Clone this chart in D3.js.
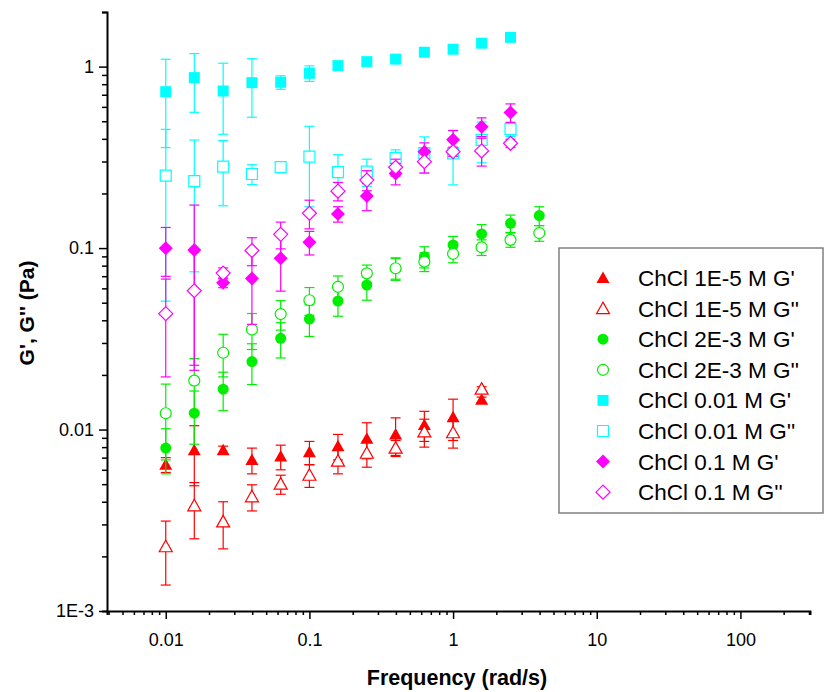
<!DOCTYPE html>
<html><head><meta charset="utf-8">
<script src="https://cdn.jsdelivr.net/npm/d3@7"></script>
<style>body{margin:0;background:#fff}svg{display:block}text{font-family:"Liberation Sans",Arial,sans-serif}</style>
</head><body>
<svg id="c" width="824" height="692"></svg>
<script>
// ---- data ----
const freq = [0.01, 0.0158, 0.0251, 0.0398, 0.0631, 0.1, 0.158, 0.251, 0.398, 0.631, 1, 1.58, 2.51, 3.98];

const s1Gp  = [0.0064, 0.0077, 0.0077, 0.0068, 0.0071, 0.0075, 0.0081, 0.0089, 0.0094, 0.0106, 0.0117, 0.0146];
const s1GpE = [0.0006, 0.0028, 0.0004, 0.0011, 0.0011, 0.0011, 0.0013, 0.002, 0.0022, 0.002, 0.003, 0.0005];
const s1Gpp  = [0.00226, 0.0038, 0.0031, 0.00426, 0.005, 0.0056, 0.0067, 0.0074, 0.0079, 0.0097, 0.0096, 0.0167];
const s1GppE = [0.00087, 0.0013, 0.0009, 0.0007, 0.0006, 0.0008, 0.001, 0.0012, 0.0008, 0.0017, 0.0017, 0.0005];

const s2Gp  = [0.0079, 0.0123, 0.0167, 0.0237, 0.0318, 0.0406, 0.0511, 0.0626, 0.0774, 0.0897, 0.104, 0.1196, 0.137, 0.151];
const s2GpE = [0.0022, 0.004, 0.004, 0.006, 0.007, 0.008, 0.009, 0.011, 0.01, 0.012, 0.012, 0.015, 0.015, 0.018];
const s2Gpp  = [0.0123, 0.0186, 0.0265, 0.0356, 0.0433, 0.0516, 0.0612, 0.0726, 0.0774, 0.0842, 0.093, 0.101, 0.111, 0.121];
const s2GppE = [0.0055, 0.006, 0.007, 0.008, 0.008, 0.009, 0.009, 0.008, 0.011, 0.01, 0.01, 0.01, 0.01, 0.012];

const s3Gp  = [0.728, 0.87, 0.734, 0.816, 0.82, 0.919, 1.013, 1.065, 1.10, 1.20, 1.247, 1.346, 1.45];
const s3GpE = [0.37, 0.31, 0.31, 0.29, 0.07, 0.09, 0.02, 0.02, 0.02, 0.02, 0.02, 0.02, 0.02];
const s3Gpp  = [0.251, 0.234, 0.281, 0.256, 0.279, 0.319, 0.262, 0.264, 0.313, 0.334, 0.333, 0.395, 0.452];
const s3GppE = [0.2, 0.16, 0.11, 0.032, 0.01, 0.15, 0.065, 0.045, 0.035, 0.076, 0.11, 0.1, 0.04];

const s4Gp  = [0.0999, 0.0976, 0.0645, 0.068, 0.0879, 0.1076, 0.154, 0.1937, 0.258, 0.34, 0.395, 0.467, 0.558];
const s4GpE = [0.03, 0.075, 0.004, 0.03, 0.03, 0.016, 0.015, 0.033, 0.035, 0.04, 0.05, 0.055, 0.065];
const s4Gpp  = [0.0435, 0.0582, 0.0728, 0.097, 0.119, 0.1556, 0.206, 0.237, 0.279, 0.2995, 0.34, 0.343, 0.378];
const s4GppE = [0.024, 0.037, 0.005, 0.017, 0.02, 0.028, 0.024, 0.03, 0.03, 0.04, 0.02, 0.06, 0.02];

const seriesNames = ["ChCl 1E-5 M G'", "ChCl 1E-5 M G''", "ChCl 2E-3 M G'", "ChCl 2E-3 M G''",
                     "ChCl 0.01 M G'", "ChCl 0.01 M G''", "ChCl 0.1 M G'", "ChCl 0.1 M G''"];
const seriesColors = ["#ff0000", "#ff0000", "#00ee00", "#00ee00", "#00ffff", "#00ffff", "#ff00ff", "#ff00ff"];
const seriesShapes = ["triangle", "triangle", "circle", "circle", "square", "square", "diamond", "diamond"];
const seriesFilled = [true, false, true, false, true, false, true, false];
const seriesValues = [s1Gp, s1Gpp, s2Gp, s2Gpp, s3Gp, s3Gpp, s4Gp, s4Gpp];
const seriesErrors = [s1GpE, s1GppE, s2GpE, s2GppE, s3GpE, s3GppE, s4GpE, s4GppE];

const xTickValues = [0.01, 0.1, 1, 10, 100];
const xTickLabels = ["0.01", "0.1", "1", "10", "100"];
const yTickValues = [0.001, 0.01, 0.1, 1];
const yTickLabels = ["1E-3", "0.01", "0.1", "1"];
const xTitle = "Frequency (rad/s)";
const yTitle = "G', G'' (Pa)";

// ---- chart ----
const svg = d3.select("#c");
const x = d3.scaleLog().domain([0.0039, 305]).range([107, 810]);
const y = d3.scaleLog().domain([0.001, 2]).range([611, 12]);

function minorTicks(dom) {
  const out = [];
  for (let e = -4; e <= 3; e++) for (let m = 2; m <= 9; m++) {
    const v = m * Math.pow(10, e);
    if (v >= dom[0] && v <= dom[1]) out.push(v);
  }
  return out;
}

const gx = svg.append("g").attr("transform", "translate(0,611)");
gx.call(d3.axisBottom(x).tickValues(minorTicks(x.domain())).tickSize(4).tickFormat(""));
gx.append("g").call(d3.axisBottom(x).tickValues(xTickValues).tickSize(8)
  .tickFormat((d, i) => xTickLabels[i]).tickPadding(14));
const gy = svg.append("g").attr("transform", "translate(107,0)");
gy.call(d3.axisLeft(y).tickValues(minorTicks(y.domain())).tickSize(5).tickFormat(""));
gy.append("g").call(d3.axisLeft(y).tickValues(yTickValues).tickSize(8)
  .tickFormat((d, i) => yTickLabels[i]).tickPadding(5));
svg.selectAll(".domain").attr("stroke", "#000").attr("stroke-width", 2);
svg.selectAll(".tick line").attr("stroke", "#000").attr("stroke-width", 1.5);
svg.selectAll(".tick text").attr("font-size", 18).attr("fill", "#000")
  .attr("font-family", "'Liberation Sans', Arial, sans-serif");
gx.selectAll("g g .domain").remove();
gy.selectAll("g g .domain").remove();

svg.append("text").attr("x", 457).attr("y", 685).attr("text-anchor", "middle")
  .attr("font-size", 21.5).attr("font-weight", "bold").text(xTitle);
svg.append("text").attr("transform", "translate(34,313) rotate(-90)").attr("text-anchor", "middle")
  .attr("font-size", 21).attr("font-weight", "bold").text(yTitle);

function shapePath(s) {
  if (s === "triangle") return "M0,-6.5L6.5,5L-6.5,5Z";
  if (s === "square") return "M-5.5,-5.5H5.5V5.5H-5.5Z";
  if (s === "diamond") return "M0,-7L7,0L0,7L-7,0Z";
  return d3.symbol(d3.symbolCircle, 95)();
}

const plot = svg.append("g");
seriesValues.forEach((vals, si) => {
  const col = seriesColors[si];
  const errs = seriesErrors[si];
  const g = plot.append("g");
  const pts = vals.map((v, i) => ({f: freq[i], v, e: errs[i]}));
  const eb = g.selectAll(".eb").data(pts).enter().append("g");
  eb.each(function(d) {
    const sel = d3.select(this);
    const top = y(d.v + d.e), bot = y(Math.max(d.v - d.e, 0.0005));
    const cx = x(d.f);
    sel.append("line").attr("x1", cx).attr("x2", cx).attr("y1", top).attr("y2", bot);
    sel.append("line").attr("x1", cx - 5).attr("x2", cx + 5).attr("y1", top).attr("y2", top);
    sel.append("line").attr("x1", cx - 5).attr("x2", cx + 5).attr("y1", bot).attr("y2", bot);
  });
  eb.selectAll("line").attr("stroke", col).attr("stroke-width", 1.2);
  g.selectAll(".pt").data(pts).enter().append("path")
    .attr("d", shapePath(seriesShapes[si]))
    .attr("transform", d => `translate(${x(d.f)},${y(d.v)})`)
    .attr("fill", seriesFilled[si] ? col : "#fff")
    .attr("stroke", col).attr("stroke-width", seriesFilled[si] ? 0 : 1.2);
});

// legend
const lg = svg.append("g");
lg.append("rect").attr("x", 559).attr("y", 248).attr("width", 264).attr("height", 265)
  .attr("fill", "#fff").attr("stroke", "#808080").attr("stroke-width", 1.5);
seriesNames.forEach((n, i) => {
  const cy = 278 + i * 30.6;
  lg.append("path").attr("d", shapePath(seriesShapes[i]))
    .attr("transform", `translate(603,${cy})`)
    .attr("fill", seriesFilled[i] ? seriesColors[i] : "#fff")
    .attr("stroke", seriesColors[i]).attr("stroke-width", seriesFilled[i] ? 0 : 1.2);
  lg.append("text").attr("x", 638).attr("y", cy + 8).attr("font-size", 22.5).attr("fill", "#000").text(n);
});
</script>
</body></html>
